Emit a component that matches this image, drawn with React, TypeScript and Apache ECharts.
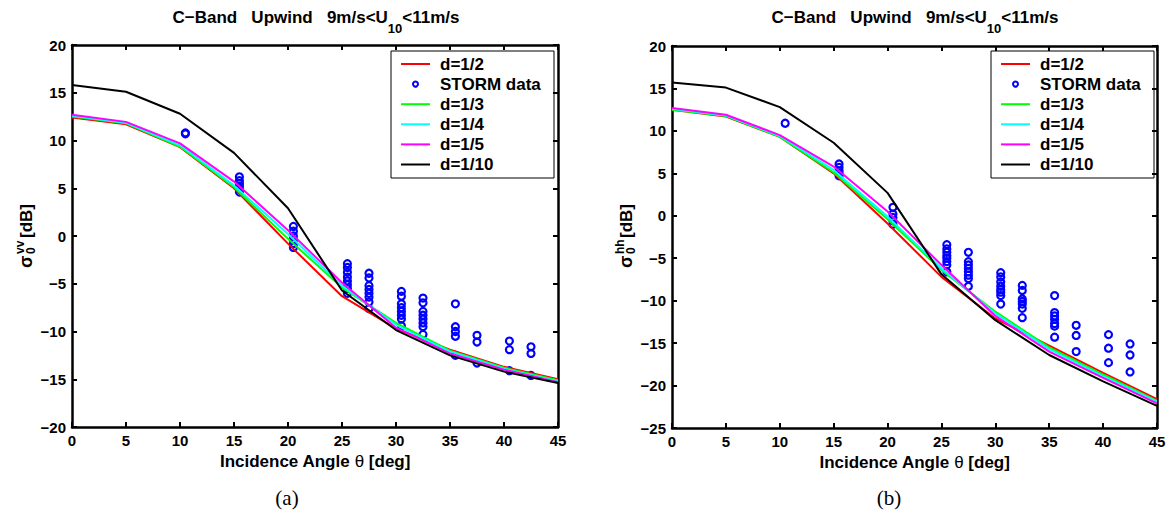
import React, { useEffect, useRef } from "react";
import * as echarts from "echarts";

// ---- data ----
const angles = [0, 5, 10, 15, 20, 25, 30, 35, 40, 45];

// (a) VV
const vvD2 = [12.4, 11.7, 9.3, 5.0, -0.8, -6.3, -9.7, -11.9, -13.7, -15.0];
const vvD3 = [12.5, 11.8, 9.35, 5.1, -0.3, -5.4, -9.1, -12.0, -13.8, -15.1];
const vvD4 = [12.6, 11.85, 9.5, 5.3, 0.2, -5.2, -9.3, -12.1, -13.9, -15.2];
const vvD5 = [12.7, 11.95, 9.7, 5.7, 0.6, -4.9, -9.6, -12.3, -14.0, -15.3];
const vvD10 = [15.8, 15.1, 12.8, 8.7, 2.9, -5.7, -9.85, -12.5, -14.2, -15.4];

// (b) HH
const hhD2 = [12.5, 11.7, 9.3, 5.0, -0.9, -7.2, -12.1, -15.3, -18.5, -21.6];
const hhD3 = [12.5, 11.75, 9.3, 5.1, -0.4, -6.4, -11.3, -15.5, -18.7, -21.8];
const hhD4 = [12.6, 11.8, 9.4, 5.4, -0.1, -6.2, -11.5, -15.7, -18.9, -21.9];
const hhD5 = [12.7, 11.9, 9.5, 5.8, 0.5, -5.8, -11.8, -16.0, -19.1, -22.1];
const hhD10 = [15.7, 15.1, 12.8, 8.6, 2.7, -6.9, -12.3, -16.4, -19.5, -22.4];

// STORM data
const stormAngles = [10.5, 15.5, 20.5, 25.5, 27.5, 30.5, 32.5, 35.5, 37.5, 40.5, 42.5];
const stormVV = [
  [10.8, 10.7],
  [6.2, 5.8, 5.5, 5.2, 4.9, 4.6],
  [1.0, 0.5, 0.0, -0.4, -0.8, -1.2],
  [-2.9, -3.3, -3.8, -4.3, -4.7, -5.1, -5.5, -6.0],
  [-3.9, -4.4, -5.2, -5.6, -6.0, -6.4, -6.9, -7.6],
  [-5.8, -6.3, -7.1, -7.5, -7.9, -8.3, -8.7, -9.4],
  [-6.5, -7.0, -7.9, -8.3, -8.7, -9.1, -9.5, -10.3],
  [-7.1, -9.5, -10.0, -10.5, -12.5],
  [-10.4, -11.1, -13.3],
  [-11.0, -11.9, -14.1],
  [-11.6, -12.3, -14.6],
];
const stormHH = [
  [10.9],
  [6.1, 5.7, 5.3, 5.0, 4.7],
  [1.0, 0.2, -0.2, -0.6, -1.0],
  [-3.4, -3.9, -4.3, -4.7, -5.0, -5.4, -5.8, -6.6],
  [-4.3, -5.4, -5.8, -6.2, -6.6, -7.0, -7.4, -8.3],
  [-6.7, -7.2, -7.8, -8.3, -8.7, -9.0, -9.4, -10.4],
  [-8.2, -8.8, -9.8, -10.1, -10.4, -10.9, -12.0],
  [-9.4, -11.4, -11.8, -12.2, -12.7, -13.0, -14.3],
  [-12.9, -14.1, -16.0],
  [-14.0, -15.6, -17.3],
  [-15.1, -16.4, -18.4],
];

const xTicks = { min: 0, max: 45, interval: 5 };
const yTicksA = { min: -20, max: 20, interval: 5 };
const yTicksB = { min: -25, max: 20, interval: 5 };

const legendLabels = ["d=1/2", "STORM data", "d=1/3", "d=1/4", "d=1/5", "d=1/10"];
const lineColors: Record<string, string> = {
  "d=1/2": "#ff0000",
  "d=1/3": "#00ff00",
  "d=1/4": "#00ffff",
  "d=1/5": "#ff00ff",
  "d=1/10": "#000000",
};
const stormColor = "#0000ff";

const FONT = "Liberation Sans, Arial, sans-serif";

const pairs = (xs: number[], ys: number[]) => xs.map((x, i) => [x, ys[i]]);
const stormPairs = (vals: number[][]) => {
  const out: number[][] = [];
  vals.forEach((col, i) => col.forEach((v) => out.push([stormAngles[i], v])));
  return out;
};

export default function App() {
  const ref = useRef<HTMLDivElement>(null);
  useEffect(() => {
    if (!ref.current) return;
    const chart = echarts.init(ref.current, null, { renderer: "svg" });

    const grids = [
      { left: 72, top: 45, width: 486, height: 382 },
      { left: 672, top: 46, width: 485, height: 382 },
    ];
    const axisLine = { show: true, onZero: false, lineStyle: { color: "#000", width: 2.5 } };
    const axisTick = { show: true, inside: true, length: 5, lineStyle: { color: "#000", width: 2 } };
    const label = { color: "#000", fontSize: 15, fontWeight: "bold", fontFamily: FONT };

    const xName = "{b|Incidence Angle\u00a0}{t|θ}{b|\u00a0[deg]}";
    const xNameStyle = {
      rich: {
        b: { fontSize: 17, fontWeight: "bold", fontFamily: FONT, color: "#000" },
        t: { fontSize: 17, fontWeight: "normal", fontFamily: FONT, color: "#000" },
      },
    };
    const xAxes: any[] = [];
    const yAxes: any[] = [];
    [0, 1].forEach((g) => {
      xAxes.push({
        type: "value", gridIndex: g, position: "bottom", ...xTicks,
        axisLine, axisTick, splitLine: { show: false },
        axisLabel: { ...label, margin: 6 },
        name: xName, nameLocation: "middle", nameGap: 21, nameTextStyle: xNameStyle,
      });
      xAxes.push({
        type: "value", gridIndex: g, position: "top", ...xTicks,
        axisLine, axisTick, splitLine: { show: false }, axisLabel: { show: false },
      });
      const yt = g === 0 ? yTicksA : yTicksB;
      yAxes.push({
        type: "value", gridIndex: g, position: "left", ...yt,
        axisLine, axisTick, splitLine: { show: false },
        axisLabel: { ...label, margin: 6, formatter: (v: number) => String(v).replace("-", "\u2212") },
      });
      yAxes.push({
        type: "value", gridIndex: g, position: "right", ...yt,
        axisLine, axisTick, splitLine: { show: false }, axisLabel: { show: false },
      });
    });

    const makeSeries = (g: number, lines: Record<string, number[]>, storm: number[][]) => {
      const xi = g * 2;
      const yi = g * 2;
      return legendLabels.map((name) => {
        if (name === "STORM data") {
          return {
            type: "scatter", name, xAxisIndex: xi, yAxisIndex: yi,
            data: stormPairs(storm), symbol: "circle", symbolSize: 7,
            itemStyle: { color: "rgba(0,0,0,0)", borderColor: stormColor, borderWidth: 2.2, opacity: 1 },
            emphasis: { disabled: true },
          };
        }
        return {
          type: "line", name, xAxisIndex: xi, yAxisIndex: yi,
          data: pairs(angles, lines[name]), symbol: "none",
          lineStyle: { color: lineColors[name], width: 2 },
          itemStyle: { color: lineColors[name] },
          emphasis: { disabled: true },
        };
      });
    };

    const series = [
      ...makeSeries(0, { "d=1/2": vvD2, "d=1/3": vvD3, "d=1/4": vvD4, "d=1/5": vvD5, "d=1/10": vvD10 }, stormVV),
      ...makeSeries(1, { "d=1/2": hhD2, "d=1/3": hhD3, "d=1/4": hhD4, "d=1/5": hhD5, "d=1/10": hhD10 }, stormHH),
    ];

    const titleText = "{a|C\u2212Band\u00a0\u00a0\u00a0Upwind\u00a0\u00a0\u00a09m/s<U}{s|10}{a|<11m/s}";
    const titleRich = {
      a: { fontSize: 17, fontWeight: "bold", fontFamily: FONT, color: "#000", lineHeight: 25.5, verticalAlign: "top" },
      s: { fontSize: 13, fontWeight: "bold", fontFamily: FONT, color: "#000", lineHeight: 25.5, verticalAlign: "bottom" },
    };

    const yLabel = (x: number, pol: string) => ({
      type: "group", x, y: 268, rotation: Math.PI / 2, z: 100,
      children: [
        { type: "text", x: 0, y: 0, style: { text: "σ", fontSize: 18, fontWeight: "bold", fontFamily: FONT, fill: "#000", textAlign: "left", textVerticalAlign: "middle" } },
        { type: "text", x: 14, y: -6, style: { text: pol, fontSize: 12, fontWeight: "bold", fontFamily: FONT, fill: "#000", textAlign: "left", textVerticalAlign: "middle" } },
        { type: "text", x: 14, y: 4.5, style: { text: "0", fontSize: 12, fontWeight: "bold", fontFamily: FONT, fill: "#000", textAlign: "left", textVerticalAlign: "middle" } },
        { type: "text", x: 30, y: 0, style: { text: "[dB]", fontSize: 17, fontWeight: "bold", fontFamily: FONT, fill: "#000", textAlign: "left", textVerticalAlign: "middle" } },
      ],
    });

    const legendBox = (ox: number) => {
      const children: any[] = [
        { type: "rect", shape: { x: 391 + ox, y: 51, width: 163, height: 127 }, style: { fill: "#fff", stroke: "#000", lineWidth: 1 } },
      ];
      legendLabels.forEach((name, i) => {
        const y = 64 + i * 20.1;
        if (name === "STORM data") {
          children.push({ type: "circle", shape: { cx: 415.5 + ox, cy: y, r: 2.5 }, style: { fill: "none", stroke: stormColor, lineWidth: 2 } });
        } else {
          children.push({ type: "line", shape: { x1: 401 + ox, y1: y, x2: 430 + ox, y2: y }, style: { stroke: lineColors[name], lineWidth: 2 } });
        }
        children.push({ type: "text", x: 440 + ox, y, style: { text: name, fontSize: 17, fontWeight: "bold", fontFamily: FONT, fill: "#000", textAlign: "left", textVerticalAlign: "middle" } });
      });
      return { type: "group", z: 100, children };
    };

    chart.setOption({
      animation: false,
      backgroundColor: "#fff",
      title: [
        { text: titleText, left: 316, top: 9, padding: 0, textAlign: "center", textStyle: { rich: titleRich } },
        { text: titleText, left: 915, top: 9, padding: 0, textAlign: "center", textStyle: { rich: titleRich } },
      ],
      grid: grids,
      xAxis: xAxes,
      yAxis: yAxes,
      series,
      graphic: [
        yLabel(26, "vv"),
        yLabel(626, "hh"),
        legendBox(0),
        legendBox(600),
        { type: "text", x: 287, y: 498, z: 100, style: { text: "(a)", fontSize: 21, fontFamily: "Liberation Serif, Times New Roman, serif", fill: "#000", textAlign: "center", textVerticalAlign: "middle" } },
        { type: "text", x: 889, y: 498, z: 100, style: { text: "(b)", fontSize: 21, fontFamily: "Liberation Serif, Times New Roman, serif", fill: "#000", textAlign: "center", textVerticalAlign: "middle" } },
      ],
    });
    return () => chart.dispose();
  }, []);
  return <div ref={ref} style={{ position: "absolute", left: 0, top: 0, width: 1173, height: 514 }} />;
}
